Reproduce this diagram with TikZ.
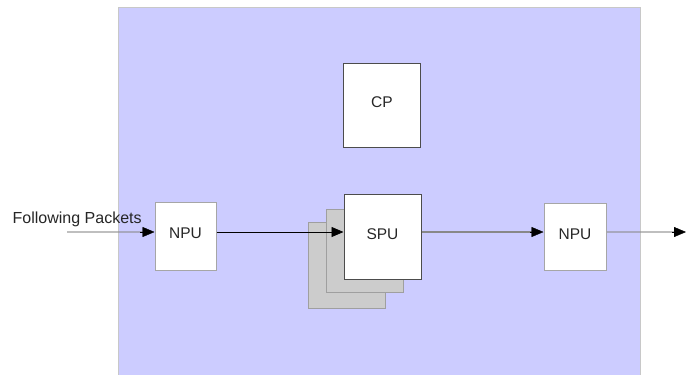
\documentclass[tikz,border=0pt]{standalone}
\usepackage{fontspec}
\setmainfont{Liberation Sans}
\usetikzlibrary{arrows.meta}
\definecolor{bgblue}{RGB}{204,204,255}
\definecolor{bgedge}{RGB}{200,200,200}
\definecolor{shadowgray}{RGB}{204,204,204}
\definecolor{midgray}{RGB}{136,136,136}
\newcommand{\liftup}[1]{\raisebox{5pt}{#1}}
\tikzset{
  x=1pt,y=-1pt,
  box/.style={draw=#1,fill=white,line width=1pt,font=\fontsize{15.5}{17}\selectfont,text=black!85,inner sep=0pt},
  box/.default={gray!70},
  shbox/.style={draw=gray!75,fill=shadowgray,line width=0.8pt},
  tip/.style={-{Triangle[length=12pt,width=10pt]}},
}
\begin{document}
\begin{tikzpicture}
\useasboundingbox (0,0) rectangle (686,375);
\fill[white] (0,0) rectangle (686,375);
\draw[bgedge,fill=bgblue,line width=1pt] (118,7) -- (118,376) -- (640.5,376) -- (640.5,7) -- cycle;
% shadow boxes
\draw[shbox] (308,222) rectangle (385,308);
\draw[shbox] (326,209) rectangle (403,292);
% main boxes
\node[box={gray!60!black},minimum width=77pt,minimum height=84pt] (cp) at (382,105) {\liftup{CP}};
\node[box={gray!60!black},minimum width=77pt,minimum height=85pt] (spu) at (382.5,236.5) {\liftup{SPU}};
\node[box,minimum width=61pt,minimum height=68pt] (npu1) at (185.5,236) {\liftup{NPU}};
\node[box,minimum width=62pt,minimum height=67pt] (npu2) at (575,236.5) {\liftup{NPU}};
% text
\node[anchor=base west,inner sep=0pt,font=\fontsize{16}{18}\selectfont,text=black!85] (fp) at (12.5,223) {Following Packets};
% connectors
\coordinate (in) at (67,232);
\coordinate (out) at (686,232);
\draw[black!45,opacity=0.55,line width=2.2pt,shorten >=10pt] (in) -- (npu1.west |- in);
\draw[tip,black,line width=0.4pt] (140,232) -- (npu1.west |- in);
\draw[tip,black,line width=0.8pt] (npu1.east |- in) -- (spu.west |- in);
\draw[midgray,line width=1.8pt,shorten >=10pt] (spu.east |- in) -- (npu2.west |- in);
\draw[tip,black,line width=0.4pt] (530,232) -- (npu2.west |- in);
\draw[black!45,opacity=0.55,line width=2.2pt,shorten >=10pt] (npu2.east |- in) -- (out);
\draw[tip,black,line width=0.4pt] (672,232) -- (out);
\end{tikzpicture}
\end{document}
